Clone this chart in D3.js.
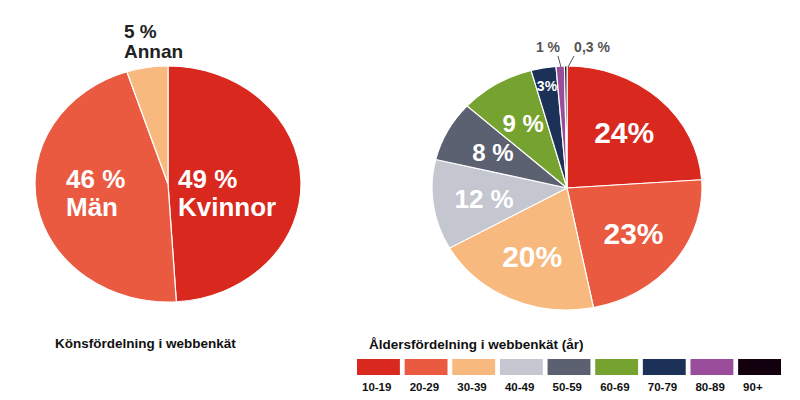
<!DOCTYPE html><html><head><meta charset="utf-8"><script src="https://cdn.jsdelivr.net/npm/d3@7"></script>
<style>body{margin:0;background:#fff}text{font-family:"Liberation Sans",Arial,sans-serif;font-weight:bold}</style></head><body><svg id="c" width="800" height="400"></svg><script>
const genderCats=["Kvinnor","Män","Annan"];
const genderVals=[49,46,5];
const genderLabels=["49 %","46 %","5 %"];
const genderColors=["#d9281e","#e95a41","#f7b97e"];
const ageCats=["10-19","20-29","30-39","40-49","50-59","60-69","70-79","80-89","90+"];
const ageVals=[24,23,20,12,8,9,3,1,0.3];
const ageLabels=["24%","23%","20%","12 %","8 %","9 %","3%","1 %","0,3 %"];
const ageColors=["#d9281e","#e95a41","#f7b97e","#c4c6d0","#5b6170","#76a22f","#1c3157","#9a4d9a","#12000f"];
const svg=d3.select("#c");
const pie=d3.pie().sort(null).value(d=>d);
const R=100;
function drawPie(cx,cy,rx,ry,vals,colors){
  const g=svg.append("g").attr("transform",`translate(${cx},${cy}) scale(${rx/R},${ry/R})`);
  const arcs=pie(vals);
  g.selectAll("path").data(arcs).join("path").attr("d",d3.arc().innerRadius(0).outerRadius(R))
   .attr("fill",(d,i)=>colors[i]).attr("stroke","#fff").attr("stroke-width",1.2*R/rx);
  return arcs;
}
// left pie
drawPie(168,184,133,118,genderVals,genderColors);
const L=svg.append("g");
L.append("text").attr("x",178).attr("y",188).attr("fill","#fff").attr("font-size",26).text(genderLabels[0]);
L.append("text").attr("x",178).attr("y",216).attr("fill","#fff").attr("font-size",26).text(genderCats[0]);
L.append("text").attr("x",66).attr("y",188).attr("fill","#fff").attr("font-size",26).text(genderLabels[1]);
L.append("text").attr("x",66).attr("y",216).attr("fill","#fff").attr("font-size",26).text(genderCats[1]);
L.append("text").attr("x",124).attr("y",38).attr("fill","#222").attr("font-size",19).text(genderLabels[2]);
L.append("text").attr("x",124).attr("y",58).attr("fill","#222").attr("font-size",19).text(genderCats[2]);
L.append("text").attr("x",55).attr("y",348).attr("fill","#111").attr("font-size",13.5).text("Könsfördelning i webbenkät");
// right pie
const cx=567,cy=188,rx=135,ry=122;
const arcs=drawPie(cx,cy,rx,ry,ageVals,ageColors);
const sizes=[30,30,30,26,24,24,14];
arcs.forEach((a,i)=>{
  if(i>6)return;
  const m=(a.startAngle+a.endAngle)/2, f=i==6?0.85:0.62;
  svg.append("text").attr("x",cx+Math.sin(m)*rx*f).attr("y",cy-Math.cos(m)*ry*f).attr("dy","0.35em")
   .attr("text-anchor","middle").attr("fill","#fff").attr("font-size",sizes[i]).text(ageLabels[i]);
});
[[7,548,52,561,67],[8,592,52,568,67]].forEach(([i,tx,ty,lx,ly])=>{
  svg.append("polyline").attr("points",`${tx+(i==7?10:-18)},${ty+4} ${lx},${ly}`).attr("fill","none").attr("stroke","#555").attr("stroke-width",1);
  svg.append("text").attr("x",tx).attr("y",ty).attr("text-anchor","middle").attr("fill","#555").attr("font-size",14).attr("font-weight","normal").text(ageLabels[i]);
});
svg.append("text").attr("x",369).attr("y",349).attr("fill","#111").attr("font-size",13.5).text("Åldersfördelning i webbenkät (år)");
const lx=d3.scaleBand().domain(ageCats).range([357,781]).paddingInner(0.1);
svg.selectAll("rect.l").data(ageCats).join("rect").attr("x",d=>lx(d)).attr("y",359).attr("width",lx.bandwidth()).attr("height",16).attr("fill",(d,i)=>ageColors[i]);
svg.selectAll("text.l").data(ageCats).join("text").attr("x",d=>lx(d)+5).attr("y",391).attr("fill","#111").attr("font-size",11.5).text(d=>d);
</script></body></html>
